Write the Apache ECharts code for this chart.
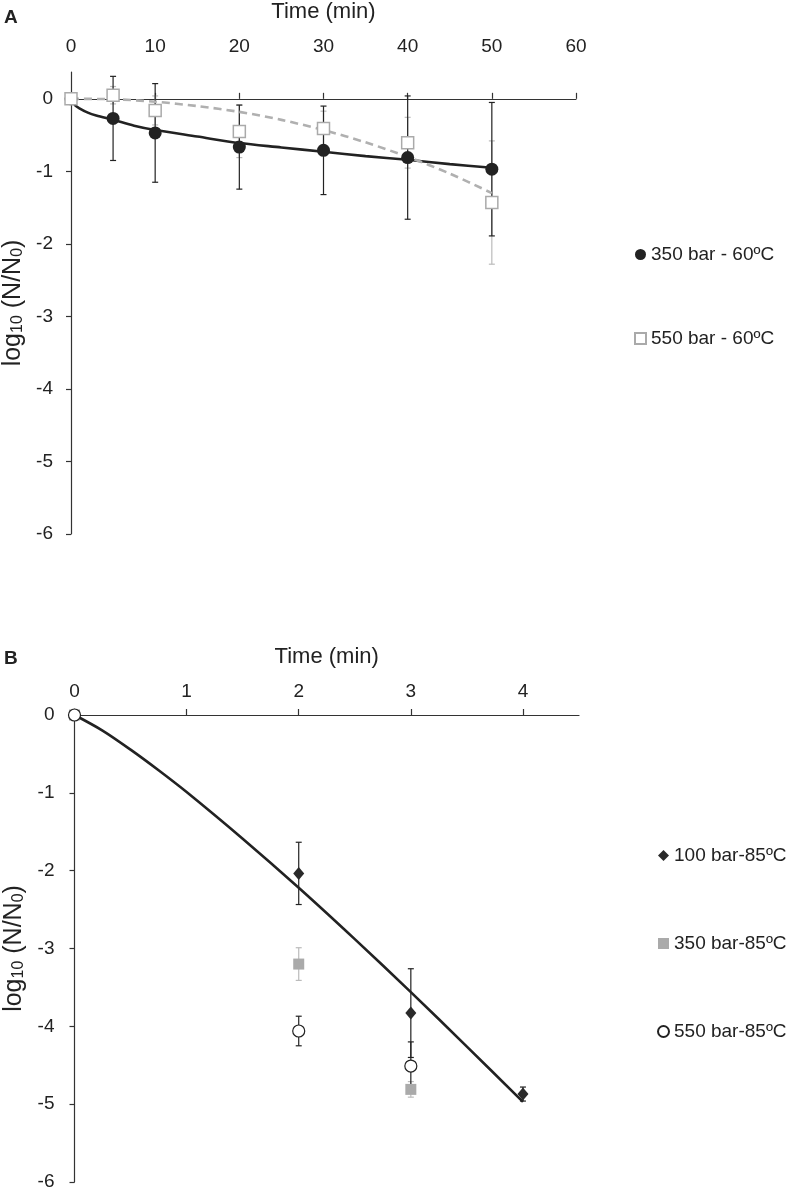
<!DOCTYPE html>
<html>
<head>
<meta charset="utf-8">
<script src="https://cdn.jsdelivr.net/npm/echarts@6/dist/echarts.min.js"></script>
<style>
  html, body { margin: 0; padding: 0; background: #fff; }
  #chart { width: 787px; height: 1190px; }
</style>
</head>
<body>
<div id="chart"></div>
<script>
// Panel A, 60ºC
const timeA = [0, 5, 10, 20, 30, 40, 50];
const mean350A = [0, -0.27, -0.47, -0.665, -0.71, -0.81, -0.97];
const err350A = [0, 0.58, 0.68, 0.58, 0.61, 0.85, 0.92];
const mean550A = [0, 0.05, -0.16, -0.45, -0.41, -0.605, -1.43];
const err550A = [0, 0.12, 0.2, 0.36, 0.24, 0.35, 0.85];
// fitted curves
const fitTime350A = [0, 0.5, 1, 2, 3, 5, 7.5, 10, 15, 20, 25, 30, 35, 40, 45, 50];
const fit350A = [0, -0.09, -0.13, -0.19, -0.23, -0.29, -0.37, -0.43, -0.52, -0.61, -0.67, -0.73, -0.79, -0.84, -0.9, -0.95];
const fitTime550A = [0, 5, 10, 15, 20, 25, 30, 35, 40, 45, 50];
const fit550A = [0, -0.005, -0.04, -0.1, -0.18, -0.29, -0.43, -0.6, -0.8, -1.03, -1.3];

// Panel B, 85ºC
const timeB100 = [0, 2, 3, 4];
const mean100B = [0, -2.035, -3.83, -4.87];
const err100B = [0, 0.4, 0.57, 0.09];
const timeB350 = [0, 2, 3];
const mean350B = [0, -3.2, -4.81];
const err350B = [0, 0.21, 0.1];
const timeB550 = [0, 2, 3];
const mean550B = [0, -4.06, -4.51];
const err550B = [0, 0.19, 0.31];
const fitTimeB = [0, 0.25, 0.5, 0.75, 1, 1.5, 2, 2.5, 3, 3.5, 4];
const fitB = [0, -0.2, -0.445, -0.71, -0.99, -1.59, -2.22, -2.88, -3.56, -4.26, -4.97];

const ticksA = [0, 10, 20, 30, 40, 50, 60];
const ticksB = [0, 1, 2, 3, 4];
const ticksY = [-6, -5, -4, -3, -2, -1, 0];

const FONT = 'Liberation Sans';
const INK = '#222';

const pairs = (xs, ys) => xs.map((x, i) => [x, ys[i]]);
const triples = (xs, ys, es) => xs.map((x, i) => [x, ys[i], es[i]]);

// error bars with caps
function errBar(color) {
  return function (params, api) {
    const x = api.value(0), m = api.value(1), e = api.value(2);
    if (!e) return;
    const top = api.coord([x, m + e]);
    const bot = api.coord([x, m - e]);
    const w = 3;
    const style = { stroke: color, lineWidth: 1.2 };
    return {
      type: 'group',
      children: [
        { type: 'line', shape: { x1: top[0], y1: top[1], x2: bot[0], y2: bot[1] }, style },
        { type: 'line', shape: { x1: top[0] - w, y1: top[1], x2: top[0] + w, y2: top[1] }, style },
        { type: 'line', shape: { x1: bot[0] - w, y1: bot[1], x2: bot[0] + w, y2: bot[1] }, style }
      ]
    };
  };
}

const yName = '{n|log}{s|10}{n| (N/N}{s|0}{n|)}';
const yNameStyle = {
  color: INK, fontFamily: FONT, fontSize: 25,
  rich: {
    n: { fontSize: 25, fontFamily: FONT, color: INK },
    s: { fontSize: 16, fontFamily: FONT, color: INK, verticalAlign: 'bottom', padding: [7, 0, 0, 0] }
  }
};

const axisLineStyle = { color: '#333', width: 1.2 };

const chart = echarts.init(document.getElementById('chart'));
chart.setOption({
  animation: false,
  backgroundColor: '#fff',
  textStyle: { fontFamily: FONT },
  graphic: [
    { type: 'text', left: 4, top: 8, style: { text: 'A', font: 'bold 19px "Liberation Sans"', fill: INK } },
    { type: 'text', left: 4, top: 649, style: { text: 'B', font: 'bold 19px "Liberation Sans"', fill: INK } }
  ],
  grid: [
    { left: 71, top: 72, width: 505, height: 462, outerBoundsMode: 'none' },
    { left: 74.5, top: 715, width: 504.5, height: 467, outerBoundsMode: 'none' }
  ],
  legend: [
    {
      data: ['350 bar - 60ºC', '550 bar - 60ºC'],
      orient: 'vertical', left: 629, top: 240, itemGap: 65,
      itemWidth: 11, itemHeight: 11, selectedMode: false,
      textStyle: { fontSize: 19, color: INK, fontFamily: FONT }
    },
    {
      data: ['100 bar-85ºC', '350 bar-85ºC', '550 bar-85ºC'],
      orient: 'vertical', left: 652, top: 841, itemGap: 69,
      itemWidth: 11, itemHeight: 11, selectedMode: false,
      textStyle: { fontSize: 19, color: INK, fontFamily: FONT }
    }
  ],
  xAxis: [
    { // A: line drawn at y = 0
      gridIndex: 0, type: 'value', min: 0, max: 60, interval: 10, position: 'bottom',
      axisLine: { show: true, onZero: true, lineStyle: axisLineStyle },
      axisTick: { show: true, inside: true, length: 6, customValues: ticksA, lineStyle: axisLineStyle },
      axisLabel: { show: false }, splitLine: { show: false }
    },
    { // A: labels and title on top
      gridIndex: 0, type: 'value', min: 0, max: 60, interval: 10, position: 'top',
      axisLine: { show: false, onZero: false }, axisTick: { show: false },
      axisLabel: { margin: 16, fontSize: 19, color: INK, fontFamily: FONT, customValues: ticksA },
      splitLine: { show: false },
      name: 'Time (min)', nameLocation: 'middle', nameGap: 49,
      nameTextStyle: { fontSize: 22, color: INK, fontFamily: FONT }
    },
    { // B
      gridIndex: 1, type: 'value', min: 0, max: 4.5, interval: 1, position: 'top',
      axisLine: { show: true, onZero: false, lineStyle: axisLineStyle },
      axisTick: { show: true, length: 6, customValues: ticksB, lineStyle: axisLineStyle },
      axisLabel: { margin: 14, fontSize: 19, color: INK, fontFamily: FONT, customValues: ticksB },
      splitLine: { show: false },
      name: 'Time (min)', nameLocation: 'middle', nameGap: 47,
      nameTextStyle: { fontSize: 22, color: INK, fontFamily: FONT }
    }
  ],
  yAxis: [
    {
      gridIndex: 0, type: 'value', min: -6, max: 0.37, interval: 1,
      axisLine: { show: true, onZero: false, lineStyle: axisLineStyle },
      axisTick: { show: true, length: 5, customValues: ticksY, lineStyle: axisLineStyle },
      axisLabel: { margin: 18, fontSize: 19, color: INK, fontFamily: FONT, customValues: ticksY },
      splitLine: { show: false },
      name: yName, nameLocation: 'middle', nameRotate: 90, nameGap: 43,
      nameTextStyle: yNameStyle
    },
    {
      gridIndex: 1, type: 'value', min: -6, max: 0, interval: 1,
      axisLine: { show: true, onZero: false, lineStyle: axisLineStyle },
      axisTick: { show: true, length: 5, customValues: ticksY, lineStyle: axisLineStyle },
      axisLabel: { margin: 20, fontSize: 19, color: INK, fontFamily: FONT, customValues: ticksY },
      splitLine: { show: false },
      name: yName, nameLocation: 'middle', nameRotate: 90, nameGap: 47,
      nameTextStyle: yNameStyle
    }
  ],
  series: [
    // ---- panel A
    { type: 'custom', xAxisIndex: 0, yAxisIndex: 0, renderItem: errBar('#bbb'),
      data: triples(timeA, mean550A, err550A), encode: { x: 0, y: 1 }, z: 1, silent: true },
    { type: 'custom', xAxisIndex: 0, yAxisIndex: 0, renderItem: errBar('#222'),
      data: triples(timeA, mean350A, err350A), encode: { x: 0, y: 1 }, z: 2, silent: true },
    { name: 'fit 350A', type: 'line', xAxisIndex: 0, yAxisIndex: 0, smooth: 0.3, showSymbol: false,
      data: pairs(fitTime350A, fit350A), lineStyle: { color: '#222', width: 2.6 }, z: 3 },
    { name: 'fit 550A', type: 'line', xAxisIndex: 0, yAxisIndex: 0, smooth: 0.3, showSymbol: false,
      data: pairs(fitTime550A, fit550A), lineStyle: { color: '#b0b0b0', width: 2.6, type: [8, 5] }, z: 3 },
    { name: '350 bar - 60ºC', type: 'scatter', xAxisIndex: 0, yAxisIndex: 0, symbol: 'circle', symbolSize: 13,
      data: pairs(timeA, mean350A), itemStyle: { color: '#222', opacity: 1 }, z: 4 },
    { name: '550 bar - 60ºC', type: 'scatter', xAxisIndex: 0, yAxisIndex: 0, symbol: 'rect', symbolSize: 12,
      data: pairs(timeA, mean550A), itemStyle: { color: '#fff', borderColor: '#aaa', borderWidth: 1.5, opacity: 1 }, z: 5 },
    // ---- panel B
    { type: 'custom', xAxisIndex: 2, yAxisIndex: 1, renderItem: errBar('#bbb'),
      data: triples(timeB350, mean350B, err350B), encode: { x: 0, y: 1 }, z: 1, silent: true },
    { type: 'custom', xAxisIndex: 2, yAxisIndex: 1, renderItem: errBar('#222'),
      data: triples(timeB100, mean100B, err100B), encode: { x: 0, y: 1 }, z: 2, silent: true },
    { type: 'custom', xAxisIndex: 2, yAxisIndex: 1, renderItem: errBar('#222'),
      data: triples(timeB550, mean550B, err550B), encode: { x: 0, y: 1 }, z: 2, silent: true },
    { name: 'fit B', type: 'line', xAxisIndex: 2, yAxisIndex: 1, smooth: 0.3, showSymbol: false,
      data: pairs(fitTimeB, fitB), lineStyle: { color: '#222', width: 2.6 }, z: 3 },
    { name: '100 bar-85ºC', type: 'scatter', xAxisIndex: 2, yAxisIndex: 1, symbol: 'diamond', symbolSize: [11, 13],
      data: pairs(timeB100, mean100B), itemStyle: { color: '#2a2a2a', opacity: 1 }, z: 4 },
    { name: '350 bar-85ºC', type: 'scatter', xAxisIndex: 2, yAxisIndex: 1, symbol: 'rect', symbolSize: 11,
      data: pairs(timeB350, mean350B), itemStyle: { color: '#aaa', opacity: 1 }, z: 5 },
    { name: '550 bar-85ºC', type: 'scatter', xAxisIndex: 2, yAxisIndex: 1, symbol: 'circle', symbolSize: 12,
      data: pairs(timeB550, mean550B), itemStyle: { color: '#fff', borderColor: '#222', borderWidth: 1.2, opacity: 1 }, z: 6 }
  ]
});
</script>
</body>
</html>
